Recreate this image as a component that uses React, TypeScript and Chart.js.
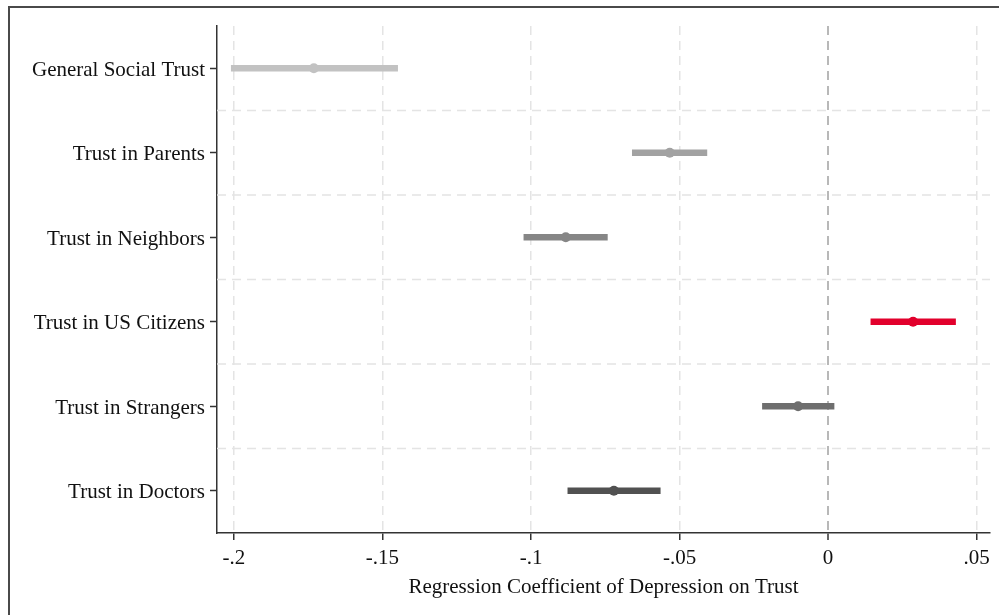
import React, { useEffect, useRef } from "react";
import { Chart, registerables } from "chart.js";

Chart.register(...registerables);

const categories = [
  "General Social Trust",
  "Trust in Parents",
  "Trust in Neighbors",
  "Trust in US Citizens",
  "Trust in Strangers",
  "Trust in Doctors",
];
const estimates = [-0.1731, -0.0533, -0.0883, 0.0286, -0.0101, -0.0721];
const lowerCI = [-0.2009, -0.0659, -0.1024, 0.0144, -0.0221, -0.0876];
const upperCI = [-0.1449, -0.0408, -0.0743, 0.0429, 0.002, -0.0565];
const seriesColors = ["#c2c2c2", "#a2a2a2", "#868686", "#e2002c", "#6e6e6e", "#515151"];
const xTickValues = [-0.2, -0.15, -0.1, -0.05, 0, 0.05];
const xTickLabels = ["-.2", "-.15", "-.1", "-.05", "0", ".05"];
const xTitle = "Regression Coefficient of Depression on Trust";

const FONT = "'Liberation Serif', 'Times New Roman', serif";

const framePlugin = {
  id: "frame",
  beforeDraw(chart: any) {
    const ctx = chart.ctx;
    ctx.save();
    ctx.fillStyle = "#ffffff";
    ctx.fillRect(0, 0, chart.width, chart.height);
    ctx.strokeStyle = "#4a4a4a";
    ctx.lineWidth = 2;
    ctx.beginPath();
    ctx.moveTo(9, chart.height + 5);
    ctx.lineTo(9, 7);
    ctx.lineTo(chart.width + 5, 7);
    ctx.stroke();
    ctx.restore();
  },
};

const hGridPlugin = {
  id: "hgrid",
  beforeDatasetsDraw(chart: any) {
    const ctx = chart.ctx;
    const y = chart.scales.y;
    const area = chart.chartArea;
    ctx.save();
    ctx.strokeStyle = "#e4e4e4";
    ctx.lineWidth = 1.5;
    ctx.setLineDash([9, 6]);
    for (let i = 0; i < categories.length - 1; i++) {
      const py = (y.getPixelForValue(i) + y.getPixelForValue(i + 1)) / 2;
      ctx.beginPath();
      ctx.moveTo(area.left, py);
      ctx.lineTo(area.right, py);
      ctx.stroke();
    }
    ctx.restore();
  },
};

export default function App() {
  const ref = useRef<HTMLCanvasElement>(null);
  useEffect(() => {
    if (!ref.current) return;
    const chart = new Chart(ref.current, {
      type: "bar",
      data: {
        labels: categories,
        datasets: [
          {
            type: "bar",
            label: "CI",
            data: categories.map((_, i) => [lowerCI[i], upperCI[i]]) as any,
            backgroundColor: seriesColors,
            borderWidth: 0,
            barThickness: 6,
            grouped: false,
          } as any,
          {
            type: "line",
            label: "Estimate",
            data: estimates,
            showLine: false,
            pointRadius: 5,
            pointHoverRadius: 5,
            pointBackgroundColor: seriesColors,
            pointBorderWidth: 0,
            borderColor: "transparent",
          } as any,
        ],
      },
      options: {
        indexAxis: "y",
        animation: false,
        responsive: false,
        maintainAspectRatio: false,
        events: [],
        layout: { padding: { left: 0, right: 9, top: 26, bottom: 0 } },
        plugins: {
          legend: { display: false },
          tooltip: { enabled: false },
        },
        scales: {
          x: {
            type: "linear",
            min: -0.2057,
            max: 0.0545,
            afterBuildTicks: (scale: any) => {
              scale.ticks = xTickValues.map((v) => ({ value: v }));
            },
            afterFit: (scale: any) => {
              scale.height = 82;
            },
            ticks: {
              autoSkip: false,
              maxRotation: 0,
              padding: 6,
              color: "#111",
              font: { family: FONT, size: 21 },
              callback: (v: any) => {
                const idx = xTickValues.findIndex((t) => Math.abs(t - Number(v)) < 1e-9);
                return idx >= 0 ? xTickLabels[idx] : "";
              },
            },
            grid: {
              drawTicks: true,
              tickLength: 7,
              tickColor: "#333",
              tickWidth: 1.5,
              color: (c: any) => (c.tick && Math.abs(c.tick.value) < 1e-9 ? "#b8b8b8" : "#e4e4e4"),
              lineWidth: (c: any) => (c.tick && Math.abs(c.tick.value) < 1e-9 ? 2 : 1.5),
            },
            border: {
              display: true,
              color: "#333",
              width: 1.5,
              dash: [9, 6],
            },
            title: {
              display: true,
              text: xTitle,
              color: "#111",
              font: { family: FONT, size: 21 },
              padding: { top: 0, bottom: 15 },
            },
          },
          y: {
            type: "category",
            offset: true,
            afterFit: (scale: any) => {
              scale.width = 217;
            },
            ticks: {
              padding: 5,
              labelOffset: 2,
              color: "#111",
              font: { family: FONT, size: 21 },
            },
            grid: {
              offset: false,
              drawTicks: true,
              tickLength: 7,
              tickColor: "#333",
              tickWidth: 1.5,
              color: "transparent",
            },
            border: {
              display: true,
              color: "#333",
              width: 1.5,
            },
          },
        },
      } as any,
      plugins: [framePlugin, hGridPlugin],
    });
    return () => chart.destroy();
  }, []);
  return (
    <div style={{ position: "fixed", left: 0, top: 0, width: 999, height: 615, overflow: "hidden", background: "#fff" }}>
      <canvas ref={ref} width={999} height={615} style={{ width: 999, height: 615, display: "block" }} />
    </div>
  );
}
